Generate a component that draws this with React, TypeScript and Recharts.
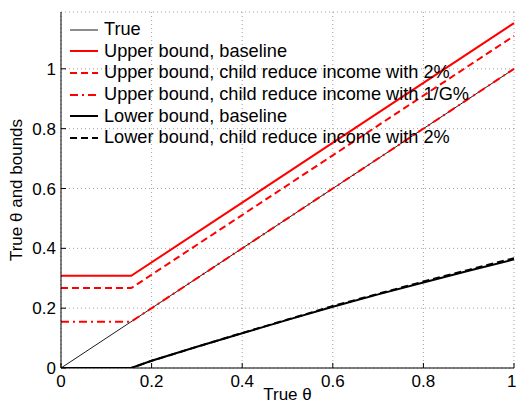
import React from "react";
import {
  LineChart,
  Line,
  XAxis,
  YAxis,
  CartesianGrid,
  Legend,
} from "recharts";

const FONT = "'Liberation Sans', Arial, Helvetica, sans-serif";

// true theta
const trueX = [0, 1];
const trueY = [0, 1];

// upper bounds (flat until the kink, then rising)
const upperX = [0, 0.155, 1];
const upperBaseline = [0.308, 0.308, 1.153];
const upper2pct = [0.267, 0.267, 1.11];
const upper1G = [0.155, 0.155, 1.0];

// lower bounds
const lowerX = [0, 0.155, 0.2, 0.3, 0.4, 0.5, 0.6, 0.7, 0.8, 0.9, 1];
const lowerBaseline = [0, 0, 0.024, 0.071, 0.116, 0.161, 0.205, 0.246, 0.286, 0.325, 0.363];
const lower2pct = [0, 0, 0.024, 0.071, 0.117, 0.162, 0.207, 0.248, 0.289, 0.328, 0.367];

const xTicks = [0, 0.2, 0.4, 0.6, 0.8, 1];
const yTicks = [0, 0.2, 0.4, 0.6, 0.8, 1];

const toRows = (xs: number[], ys: number[]) => xs.map((x, i) => ({ x, y: ys[i] }));

const series = [
  { name: "True", data: toRows(trueX, trueY), color: "#000000", width: 0.9, dash: undefined },
  { name: "Upper bound, baseline", data: toRows(upperX, upperBaseline), color: "#ff0000", width: 2, dash: undefined },
  { name: "Upper bound, child reduce income with 2%", data: toRows(upperX, upper2pct), color: "#ff0000", width: 2, dash: "7 4" },
  { name: "Upper bound, child reduce income with 1/G%", data: toRows(upperX, upper1G), color: "#ff0000", width: 2, dash: "8 4 2 4" },
  { name: "Lower bound, baseline", data: toRows(lowerX, lowerBaseline), color: "#000000", width: 2, dash: undefined },
  { name: "Lower bound, child reduce income with 2%", data: toRows(lowerX, lower2pct), color: "#000000", width: 2, dash: "7 4" },
];

const tickStyle = { fontSize: 17, fill: "#000", fontFamily: FONT };

function LegendBox() {
  return (
    <div style={{ fontFamily: FONT, fontSize: 18.2, color: "#000" }}>
      {series.map((s) => (
        <div key={s.name} style={{ display: "flex", alignItems: "center", height: 21.6, whiteSpace: "nowrap" }}>
          <svg width={34} height={6} style={{ marginRight: 2 }}>
            <line
              x1={2}
              y1={3}
              x2={30}
              y2={3}
              stroke={s.color}
              strokeWidth={s.width}
              strokeDasharray={s.dash}
            />
          </svg>
          <span>{s.name}</span>
        </div>
      ))}
    </div>
  );
}

export default function App() {
  return (
    <div style={{ position: "absolute", left: 0, top: 0, background: "#fff" }}>
      <LineChart width={516} height={407} margin={{ top: 12, right: 2, bottom: 0, left: 0 }}>
        <CartesianGrid stroke="#888" strokeDasharray="1 3" strokeWidth={0.8} />
        <XAxis
          xAxisId={0}
          type="number"
          dataKey="x"
          domain={[0, 1]}
          ticks={xTicks}
          height={39}
          tick={tickStyle}
          tickSize={-5}
          tickMargin={12}
          stroke="#000"
          allowDuplicatedCategory={false}
          label={{ value: "True θ", position: "insideBottom", offset: 7, style: { fontSize: 17, fill: "#000", fontFamily: FONT } }}
        />
        <XAxis
          xAxisId="top"
          orientation="top"
          type="number"
          domain={[0, 1]}
          ticks={xTicks}
          height={0}
          tickSize={-5}
          tickFormatter={() => ""}
          stroke="#000"
        />
        <YAxis
          yAxisId={0}
          type="number"
          domain={[0, 1.19]}
          ticks={yTicks}
          width={61}
          tick={tickStyle}
          tickSize={-5}
          tickMargin={10}
          stroke="#000"
          allowDataOverflow
          label={{
            value: "True θ and bounds",
            angle: -90,
            position: "insideLeft",
            offset: 16,
            style: { fontSize: 17, fill: "#000", fontFamily: FONT, textAnchor: "middle" },
          }}
        />
        <YAxis
          yAxisId="right"
          orientation="right"
          type="number"
          domain={[0, 1.19]}
          ticks={yTicks}
          width={0}
          tickSize={-5}
          tickFormatter={() => ""}
          stroke="#000"
          allowDataOverflow
        />
        <Legend
          layout="vertical"
          align="center"
          verticalAlign="middle"
          content={() => <LegendBox />}
          wrapperStyle={{ left: 68, top: 19, width: 430, height: 132 }}
        />
        {series.map((s) => (
          <Line
            key={s.name}
            data={s.data}
            dataKey="y"
            name={s.name}
            type="linear"
            stroke={s.color}
            strokeWidth={s.width}
            strokeDasharray={s.dash}
            dot={false}
            activeDot={false}
            isAnimationActive={false}
          />
        ))}
      </LineChart>
    </div>
  );
}
